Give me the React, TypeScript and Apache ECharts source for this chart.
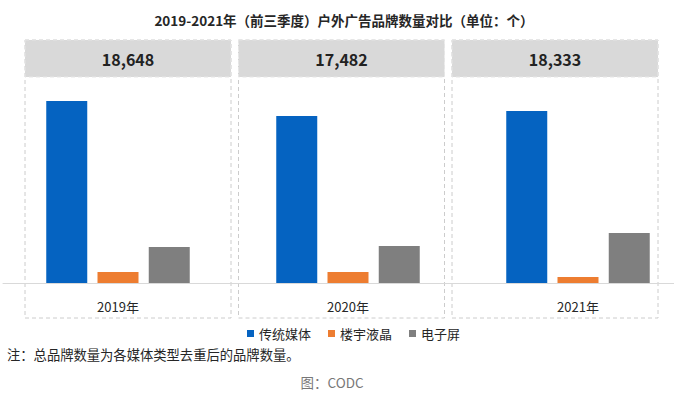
import React, { useEffect, useRef } from "react";
import * as echarts from "echarts";

const years = ["2019年", "2020年", "2021年"];
const totals = [18648, 17482, 18333];
const seriesNames = ["传统媒体", "楼宇液晶", "电子屏"];
const traditional = [16550, 15180, 15640];
const lcd = [1000, 1000, 550];
const screen = [3270, 3360, 4550];
const colors = ["#0563c1", "#ed7d31", "#7f7f7f"];

const titleText = "2019-2021年（前三季度）户外广告品牌数量对比（单位：个）";
const noteText = "注：总品牌数量为各媒体类型去重后的品牌数量。";
const sourceText = "图：CODC";

const FONT = "'Noto Sans CJK SC', 'Noto Sans', sans-serif";

export default function App() {
  const ref = useRef<HTMLDivElement>(null);
  useEffect(() => {
    document.body.style.margin = "0";
    if (!ref.current) return;
    const chart = echarts.init(ref.current, null, { renderer: "svg" });
    const boxX = [25, 238.5, 452];
    const boxW = 206;
    const graphics: any[] = [];
    boxX.forEach((x, i) => {
      graphics.push({
        type: "rect",
        z: -2,
        shape: { x, y: 40, width: boxW, height: 278 },
        style: { fill: "#ffffff", stroke: "#cccccc", lineWidth: 1, lineDash: [4, 3] },
      });
      graphics.push({
        type: "rect",
        z: -1,
        shape: { x, y: 40, width: boxW, height: 37 },
        style: { fill: "#d9d9d9", stroke: "#e6e6e6", lineWidth: 1, lineDash: [4, 3] },
      });
      graphics.push({
        type: "text",
        z: 5,
        x: x + boxW / 2,
        y: 58.5,
        style: {
          text: totals[i].toLocaleString("en-US"),
          fontSize: 16,
          fontWeight: "bold",
          fontFamily: FONT,
          fill: "#222222",
          textAlign: "center",
          textVerticalAlign: "middle",
        },
      });
    });
    graphics.push({
      type: "text",
      x: 344,
      y: 20,
      style: {
        text: titleText,
        fontSize: 13.5,
        fontWeight: "bold",
        fontFamily: FONT,
        fill: "#262626",
        textAlign: "center",
        textVerticalAlign: "middle",
      },
    });
    graphics.push({
      type: "text",
      x: 7,
      y: 354,
      style: {
        text: noteText,
        fontSize: 13.3,
        fontFamily: FONT,
        fill: "#262626",
        textAlign: "left",
        textVerticalAlign: "middle",
      },
    });
    graphics.push({
      type: "text",
      x: 332,
      y: 382,
      style: {
        text: sourceText,
        fontSize: 13.5,
        fontFamily: FONT,
        fill: "#777777",
        textAlign: "center",
        textVerticalAlign: "middle",
      },
    });

    const data = [traditional, lcd, screen];
    chart.setOption({
      animation: false,
      textStyle: { fontFamily: FONT },
      graphic: graphics,
      legend: {
        data: seriesNames,
        left: 247,
        top: 327,
        padding: 0,
        icon: "rect",
        itemWidth: 7,
        itemHeight: 7,
        itemGap: 17,
        textStyle: { fontSize: 13, color: "#262626", fontFamily: FONT },
      },
      grid: {
        left: 3,
        right: -19,
        top: 63,
        bottom: 114,
        containLabel: false,
        outerBoundsMode: "none",
      },
      xAxis: {
        type: "category",
        data: years,
        axisLine: { show: true, lineStyle: { color: "#d9d9d9", width: 1 } },
        axisTick: { show: false },
        axisLabel: { margin: 17, fontSize: 13, color: "#262626", fontFamily: FONT },
      },
      yAxis: {
        type: "value",
        min: 0,
        max: 20000,
        show: false,
        splitLine: { show: false },
      },
      series: seriesNames.map((name, i) => ({
        name,
        type: "bar",
        data: data[i],
        barWidth: 41,
        barGap: "25%",
        itemStyle: { color: colors[i] },
      })),
    });
    return () => chart.dispose();
  }, []);
  return <div ref={ref} style={{ width: 674, height: 397 }} />;
}
